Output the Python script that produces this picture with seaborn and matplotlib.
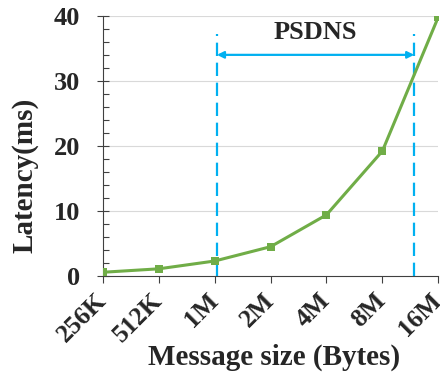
import matplotlib
matplotlib.use("Agg")
import matplotlib.pyplot as plt
import seaborn as sns
import pandas as pd
import numpy as np
from matplotlib.ticker import MultipleLocator

sizes = ["256K", "512K", "1M", "2M", "4M", "8M", "16M"]
latency = [0.57, 1.1, 2.3, 4.5, 9.4, 19.2, 39.8]
psdns_range = [2.04, 5.57]
psdns_label = "PSDNS"

sns.set_theme(style="white")
plt.rcParams['font.family'] = ['Liberation Serif', 'DejaVu Serif']
plt.rcParams['font.weight'] = 'bold'

df = pd.DataFrame({"pos": np.arange(len(sizes)), "latency": latency})

fig = plt.figure(figsize=(4.4, 3.77), dpi=100)
ax = fig.add_axes([0.234, 0.268, 0.762, 0.69])

for yv in [10, 20, 30, 40]:
    ax.axhline(yv, color="#d9d9d9", lw=0.8, zorder=0)

sns.lineplot(data=df, x="pos", y="latency", ax=ax, color="#70AD47", lw=2.2,
             marker="s", markersize=6, markeredgewidth=0, zorder=3)

for xv in psdns_range:
    ax.plot([xv, xv], [0, 37.2], ls=(0, (6, 3)), color="#00B0F0", lw=1.6, zorder=2)
ax.annotate("", xy=(psdns_range[0], 34), xytext=(psdns_range[1], 34),
            arrowprops=dict(arrowstyle="<|-|>", color="#00B0F0", lw=1.6,
                            mutation_scale=10, shrinkA=0, shrinkB=0))
ax.text(sum(psdns_range) / 2, 37.4, psdns_label, ha="center", va="center",
        fontsize=19, fontweight="bold")

ax.set_xlim(0, len(sizes) - 1)
ax.set_ylim(0, 40)
ax.set_xticks(range(len(sizes)))
ax.set_xticklabels(sizes, rotation=45, ha="right", va="center", rotation_mode="anchor",
                   fontsize=18.5, fontweight="bold")
ax.yaxis.set_major_locator(MultipleLocator(10))
ax.yaxis.set_minor_locator(MultipleLocator(2))
for lab in ax.get_yticklabels():
    lab.set_fontsize(19)
    lab.set_fontweight("bold")
ax.tick_params(axis="x", which="major", direction="out", length=5, width=0.8,
               color="#404040", bottom=True, pad=10)
ax.tick_params(axis="y", which="both", direction="in", length=4.5, width=0.8,
               color="#404040", left=True)
ax.tick_params(axis="y", which="major", direction="inout", length=9, pad=12)

for s in ["top", "right"]:
    ax.spines[s].set_visible(False)
for s in ["left", "bottom"]:
    ax.spines[s].set_color("#404040")
    ax.spines[s].set_linewidth(0.8)

ax.set_xlabel("Message size (Bytes)", fontsize=21, fontweight="bold", va="top")
ax.xaxis.set_label_coords(0.51, -0.262)
ax.set_ylabel("Latency(ms)", fontsize=21, fontweight="bold")
ax.yaxis.set_label_coords(-0.191, 0.388)

fig.savefig("out.png", dpi=100)
